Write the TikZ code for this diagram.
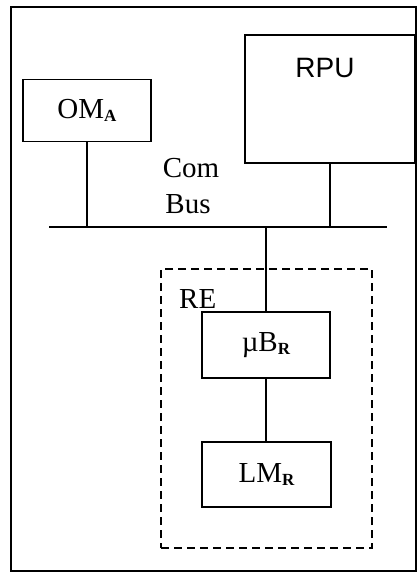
\documentclass[tikz,border=0pt]{standalone}
\usepackage{fontspec}
\setmainfont{Liberation Serif}
\newfontfamily\arialfont{Liberation Sans}
\newcommand{\mysub}[1]{{\fontsize{17}{17}\selectfont\raisebox{-3.5pt}{\textbf{#1}}}}
\begin{document}
\begin{tikzpicture}[x=1pt,y=-1pt,
  box/.style={draw=black,line width=1.6pt,inner sep=0pt,font=\fontsize{29}{30}\selectfont},
  wire/.style={draw=black,line width=1.6pt},
  dashbox/.style={draw=black,line width=1.4pt,dash pattern=on 8pt off 5pt,inner sep=0pt},
  lbl/.style={inner sep=0pt,font=\fontsize{29}{30}\selectfont}]
\useasboundingbox (0,0) rectangle (418,573);
\node[draw=black,line width=1.6pt,minimum width=405pt,minimum height=564pt,inner sep=0pt] (frame) at (213.75,289.25) {};
\node[box,minimum width=128pt,minimum height=62pt] (om) at (87,110.5) {OM\mysub{A}};
\node[box,minimum width=170pt,minimum height=128pt] (rpu) at (330,99) {};
\node[lbl,font=\arialfont\fontsize{28}{30}\selectfont] (rputxt) at (325,68) {RPU};
\node[lbl] (com) at (191,168) {Com};
\node[lbl] (bus) at (188,204) {Bus};
\coordinate (busL) at (49,227);
\coordinate (busR) at (387,227);
\draw[wire] (busL) -- (busR);
\node[dashbox,minimum width=211pt,minimum height=279pt] (re) at (266.5,408.5) {};
\node[lbl,anchor=west] (retxt) at (179,299) {RE};
\node[box,minimum width=128pt,minimum height=66pt] (ub) at (266,345) {µB\mysub{R}};
\node[box,minimum width=129pt,minimum height=65pt] (lm) at (266.5,474.5) {LM\mysub{R}};
\draw[wire] (om.south) -- (om.south |- busL);
\draw[wire] (rpu.south) -- (rpu.south |- busL);
\draw[wire,line width=1.3pt] (ub.north) -- (ub.north |- busL);
\draw[wire,line width=1.3pt] (ub.south) -- (ub.south |- lm.north);
\end{tikzpicture}
\end{document}
